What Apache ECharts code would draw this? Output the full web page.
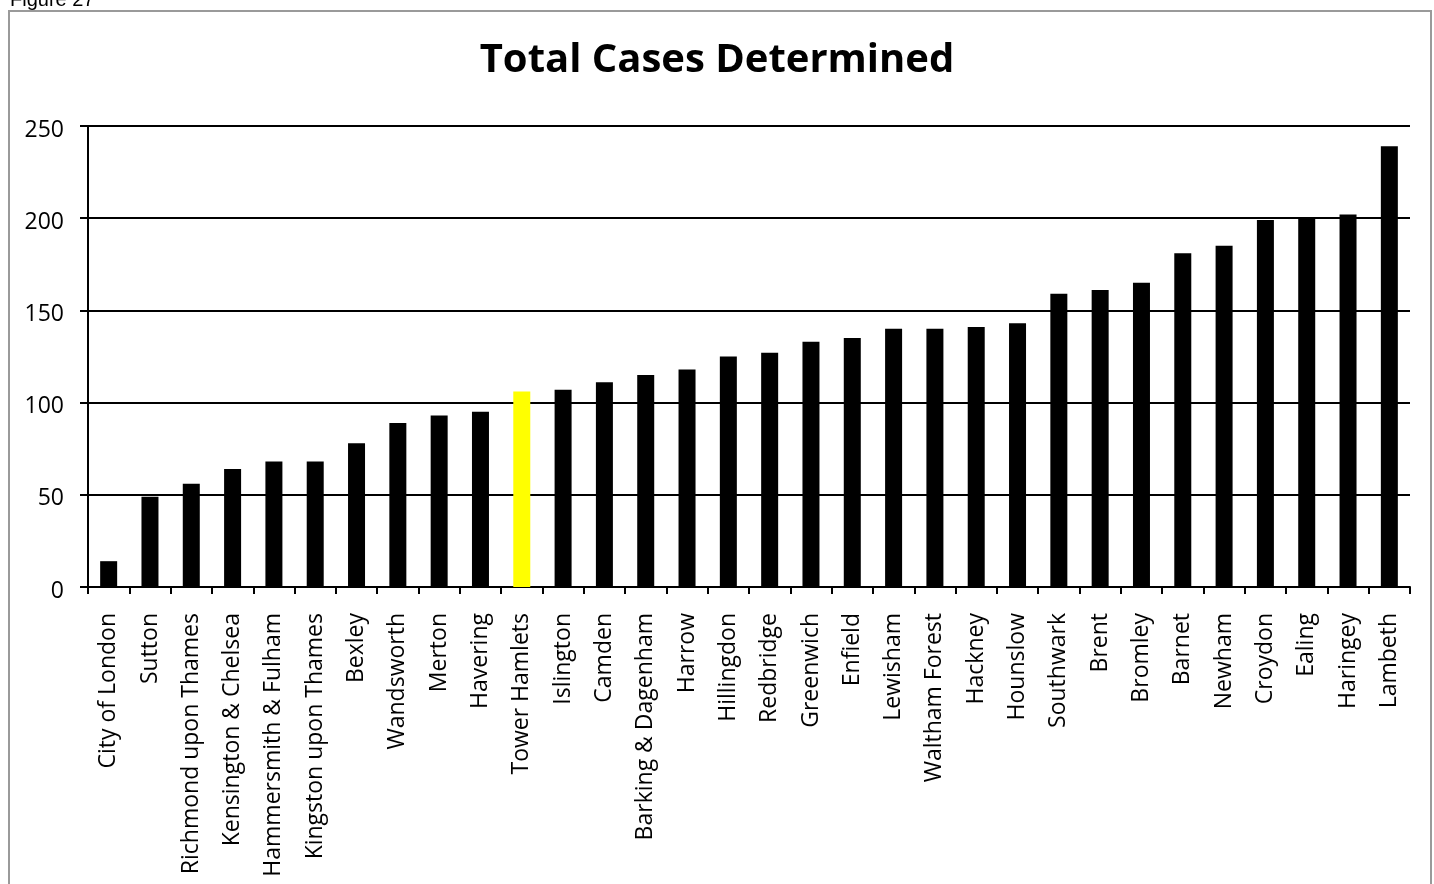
<!DOCTYPE html>
<html>
<head>
<meta charset="utf-8">
<script src="https://cdn.jsdelivr.net/npm/echarts@6/dist/echarts.min.js"></script>
<style>
  html, body { margin: 0; padding: 0; background: #fff; }
  #main { width: 1434px; height: 884px; }
</style>
</head>
<body>
<div id="main"></div>
<script>
// boroughs, sorted by total cases
var boroughs = ['City of London', 'Sutton', 'Richmond upon Thames', 'Kensington & Chelsea',
  'Hammersmith & Fulham', 'Kingston upon Thames', 'Bexley', 'Wandsworth', 'Merton', 'Havering',
  'Tower Hamlets', 'Islington', 'Camden', 'Barking & Dagenham', 'Harrow', 'Hillingdon',
  'Redbridge', 'Greenwich', 'Enfield', 'Lewisham', 'Waltham Forest', 'Hackney', 'Hounslow',
  'Southwark', 'Brent', 'Bromley', 'Barnet', 'Newham', 'Croydon', 'Ealing', 'Haringey', 'Lambeth']
var casesDetermined = [14, 49, 56, 64, 68, 68, 78, 89, 93, 95,
  106, 107, 111, 115, 118, 125, 127, 133, 135, 140, 140, 141, 143,
  159, 161, 165, 181, 185, 199, 200, 202, 239]
var highlight = 'Tower Hamlets'

var chart = echarts.init(document.getElementById('main'))

var option = {
  animation: false,
  backgroundColor: '#fff',
  title: {
    text: 'Total Cases Determined',
    left: 'center',
    top: 36,
    textStyle: { fontFamily: 'Open Sans', fontWeight: 'bold', fontSize: 40, color: '#000' }
  },
  graphic: [
    {
      type: 'rect',
      shape: { x: 9, y: 11, width: 1422, height: 900 },
      style: { fill: 'none', stroke: '#9a9a9a', lineWidth: 2 }
    },
    {
      type: 'text',
      left: 10,
      top: -10,
      style: { text: 'Figure 27', fontFamily: 'Liberation Sans', fontSize: 20, fill: '#000' }
    }
  ],
  grid: { left: 88, right: 24, top: 126, bottom: 297 },
  xAxis: {
    type: 'category',
    data: boroughs,
    axisLine: { lineStyle: { color: '#000', width: 2 } },
    axisTick: { show: true, length: 7, lineStyle: { color: '#000', width: 2 } },
    axisLabel: {
      rotate: 90,
      interval: 0,
      margin: 26,
      padding: [0, 0, 10, 0],
      color: '#000',
      fontFamily: 'Open Sans',
      fontSize: 23
    }
  },
  yAxis: {
    type: 'value',
    min: 0,
    max: 250,
    interval: 50,
    axisLine: { show: true, lineStyle: { color: '#000', width: 2 } },
    axisTick: { show: true, length: 8, lineStyle: { color: '#000', width: 2 } },
    splitLine: { lineStyle: { color: '#000', width: 2 } },
    axisLabel: {
      margin: 24,
      verticalAlign: 'top',
      lineHeight: 8,
      color: '#000',
      fontFamily: 'Open Sans',
      fontSize: 23
    }
  },
  series: [{
    type: 'bar',
    barWidth: 17,
    data: casesDetermined.map(function (v, i) {
      return {
        value: v,
        itemStyle: { color: boroughs[i] === highlight ? '#ffff00' : '#000' }
      }
    })
  }]
}

chart.setOption(option)
</script>
</body>
</html>
